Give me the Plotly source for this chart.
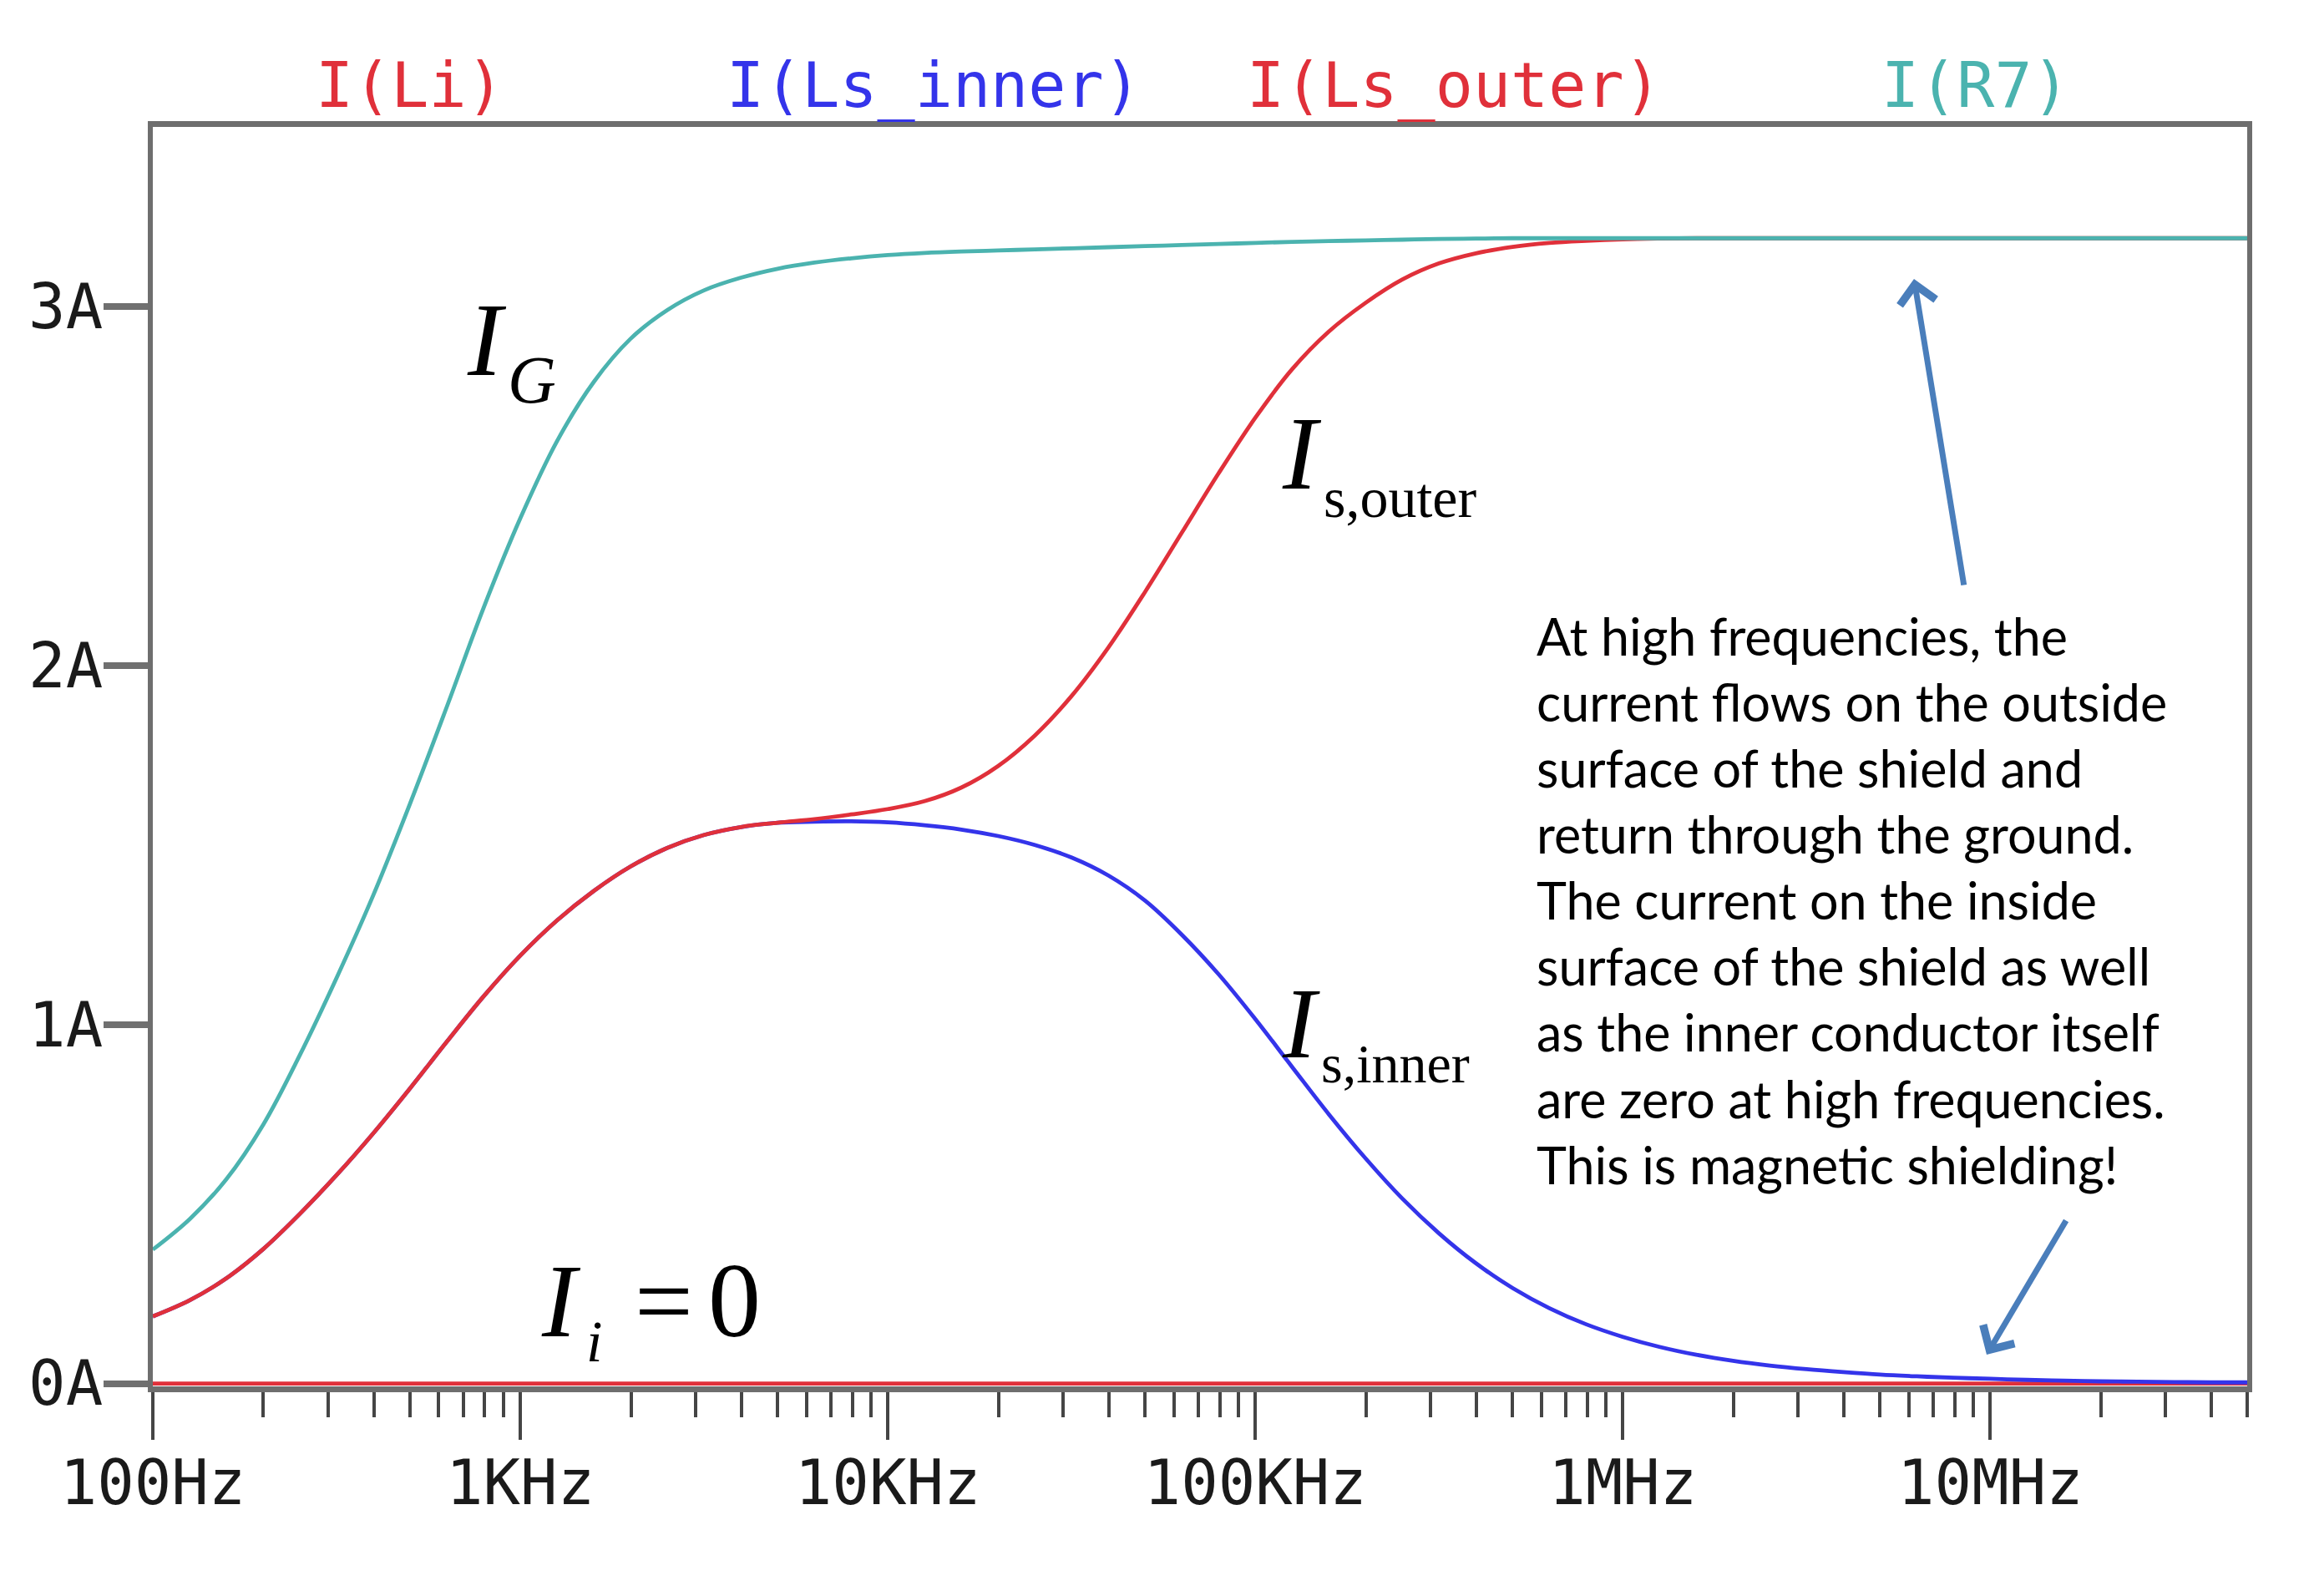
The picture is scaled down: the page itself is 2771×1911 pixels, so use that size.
import plotly.graph_objects as go

# ---------------- data ----------------
freq_hz = [100, 126, 158, 200, 251, 316, 398, 501, 631, 794,
           1000, 1259, 1585, 1995, 2512, 3162, 3981, 5012, 6310, 7943,
           10000, 12589, 15849, 19953, 25119, 31623, 39811, 50119, 63096, 79433,
           100000, 125893, 158489, 199526, 251189, 316228, 398107, 501187, 630957, 794328,
           1.0e6, 1.259e6, 1.585e6, 1.995e6, 2.512e6, 3.162e6, 3.981e6, 5.012e6, 6.31e6, 7.943e6,
           1.0e7, 1.259e7, 1.585e7, 1.995e7, 2.512e7, 3.162e7, 3.981e7, 5.0e7]

i_r7 = [0.373, 0.458, 0.567, 0.722, 0.914, 1.129, 1.36, 1.615, 1.885, 2.16,
        2.41, 2.625, 2.79, 2.91, 2.99, 3.045, 3.08, 3.105, 3.122, 3.134,
        3.143, 3.149, 3.153, 3.156, 3.159, 3.162, 3.165, 3.168, 3.171, 3.174,
        3.177, 3.180, 3.182, 3.184, 3.186, 3.188, 3.189, 3.19, 3.19, 3.19,
        3.19, 3.19, 3.19, 3.19, 3.19, 3.19, 3.19, 3.19, 3.19, 3.19,
        3.19, 3.19, 3.19, 3.19, 3.19, 3.19, 3.19, 3.19]

i_ls_outer = [0.187, 0.232, 0.292, 0.375, 0.472, 0.58, 0.697, 0.822, 0.952, 1.078,
              1.192, 1.29, 1.372, 1.44, 1.492, 1.528, 1.55, 1.562, 1.572, 1.585,
              1.60, 1.622, 1.66, 1.72, 1.805, 1.915, 2.05, 2.205, 2.37, 2.535,
              2.69, 2.825, 2.93, 3.01, 3.075, 3.12, 3.148, 3.166, 3.177, 3.183,
              3.187, 3.189, 3.19, 3.19, 3.19, 3.19, 3.19, 3.19, 3.19, 3.19,
              3.19, 3.19, 3.19, 3.19, 3.19, 3.19, 3.19, 3.19]

i_ls_inner = [0.187, 0.232, 0.292, 0.375, 0.472, 0.58, 0.697, 0.822, 0.952, 1.078,
              1.192, 1.29, 1.372, 1.44, 1.492, 1.528, 1.55, 1.562, 1.565, 1.566,
              1.563, 1.555, 1.543, 1.525, 1.50, 1.465, 1.415, 1.345, 1.25, 1.14,
              1.015, 0.882, 0.75, 0.627, 0.515, 0.418, 0.335, 0.266, 0.21, 0.165,
              0.13, 0.102, 0.08, 0.063, 0.05, 0.04, 0.032, 0.025, 0.02, 0.016,
              0.013, 0.01, 0.008, 0.006, 0.005, 0.004, 0.003, 0.003]

i_li = [0.0] * len(freq_hz)

x_tick_vals = [1e2, 1e3, 1e4, 1e5, 1e6, 1e7]
x_tick_text = ["100Hz", "1KHz", "10KHz", "100KHz", "1MHz", "10MHz"]
x_minor_vals = [k * d for d in [1e2, 1e3, 1e4, 1e5, 1e6] for k in range(2, 10)] + [2e7, 3e7, 4e7, 5e7]
y_tick_vals = [0, 1, 2, 3]
y_tick_text = ["0A", "1A", "2A", "3A"]

trace_names = ["I(Li)", "I(Ls_inner)", "I(Ls_outer)", "I(R7)"]
note_lines = ["At high frequencies, the",
              "current flows on the outside",
              "surface of the shield and",
              "return through the ground.",
              "The current on the inside",
              "surface of the shield as well",
              "as the inner conductor itself",
              "are zero at high frequencies.",
              "This is magnetic shielding!"]

# ---------------- styling ----------------
RED = "#e0303a"
BLUE = "#3434ea"
TEAL = "#4bb3af"
GRAY = "#6e6e6e"
ARROW = "#4a7ebb"
MONO = "DejaVu Sans Mono"
SERIF = "Liberation Serif"

W, H = 2771, 1911
PL, PT, PW, PH = 183, 152, 2508, 1508


def px(x):
    return (x - PL) / PW


def py(y):
    return (PT + PH - y) / PH


fig = go.Figure()
for name, vals, col in [(trace_names[0], i_li, RED), (trace_names[1], i_ls_inner, BLUE),
                        (trace_names[2], i_ls_outer, RED), (trace_names[3], i_r7, TEAL)]:
    fig.add_trace(go.Scatter(x=freq_hz, y=vals, mode="lines", name=name,
                             line=dict(color=col, width=4.8, shape="spline", smoothing=1.0),
                             hoverinfo="skip"))

ann = []
# top trace labels
for name, col, xc in zip(trace_names, [RED, BLUE, RED, TEAL], [491, 1118, 1741, 2366]):
    ann.append(dict(text=name, xref="x domain", yref="y domain", x=px(xc), y=py(102),
                    xanchor="center", yanchor="middle", showarrow=False,
                    font=dict(family=MONO, size=75, color=col)))


def serif(text, xl, base, size):
    ann.append(dict(text=text, xref="x domain", yref="y domain", x=px(xl), y=py(base - 0.3375 * size),
                    xanchor="left", yanchor="middle", showarrow=False,
                    font=dict(family=SERIF, size=size, color="black")))


serif("<i>I</i>", 557, 449, 124)
serif("<i>G</i>", 606, 482, 80)
serif("<i>I</i>", 1533, 585, 124)
serif("s,outer", 1583, 619, 68)
serif("<i>I</i>", 1533, 1266, 120)
serif("s,inner", 1580, 1296, 66)
serif("<i>I</i>", 646, 1600, 124)
serif("<i>i</i>", 700, 1630, 70)
serif("=", 758, 1600, 124)
serif("0", 846, 1600, 126)

# annotation paragraph
NOTE_SIZE = 61
for k, line in enumerate(note_lines):
    base = 785 + 79.1 * k
    ann.append(dict(text=line, xref="x domain", yref="y domain", x=px(1838), y=py(base - 0.387 * NOTE_SIZE),
                    xanchor="left", yanchor="middle", showarrow=False,
                    font=dict(family="Lato", size=NOTE_SIZE, color="black")))

# arrows
for tip, tail in [((2292, 334), (2352, 702)), ((2379, 1622), (2475, 1460))]:
    ann.append(dict(text="", xref="x domain", yref="y domain", x=px(tip[0]), y=py(tip[1]),
                    axref="x domain", ayref="y domain", ax=px(tail[0]), ay=py(tail[1]),
                    showarrow=True, arrowhead=4, arrowsize=1.2, arrowwidth=7, arrowcolor=ARROW,
                    standoff=0))

fig.update_layout(
    width=W, height=H, autosize=False,
    margin=dict(l=PL, r=W - PL - PW, t=PT, b=H - PT - PH, pad=0),
    paper_bgcolor="white", plot_bgcolor="white",
    showlegend=False,
    annotations=ann,
    xaxis=dict(type="log", range=[2, 7.69897], showgrid=False, zeroline=False,
               showline=True, linecolor=GRAY, linewidth=7, mirror=True,
               tickmode="array", tickvals=x_tick_vals, ticktext=x_tick_text,
               ticks="outside", ticklen=57, tickwidth=4, tickcolor="#454545",
               ticklabelstandoff=-12,
               tickfont=dict(family=MONO, size=74, color="#1a1a1a"),
               minor=dict(tickmode="array", tickvals=x_minor_vals, ticks="outside",
                          ticklen=30, tickwidth=4, tickcolor="#454545", showgrid=False)),
    yaxis=dict(range=[-0.008, 3.5], showgrid=False, zeroline=False,
               showline=True, linecolor=GRAY, linewidth=6, mirror=True,
               tickmode="array", tickvals=y_tick_vals, ticktext=y_tick_text,
               ticks="outside", ticklen=53, tickwidth=8, tickcolor="#707070",
               ticklabelstandoff=-14,
               tickfont=dict(family=MONO, size=74, color="#1a1a1a")),
)

fig.write_html("out.html")
